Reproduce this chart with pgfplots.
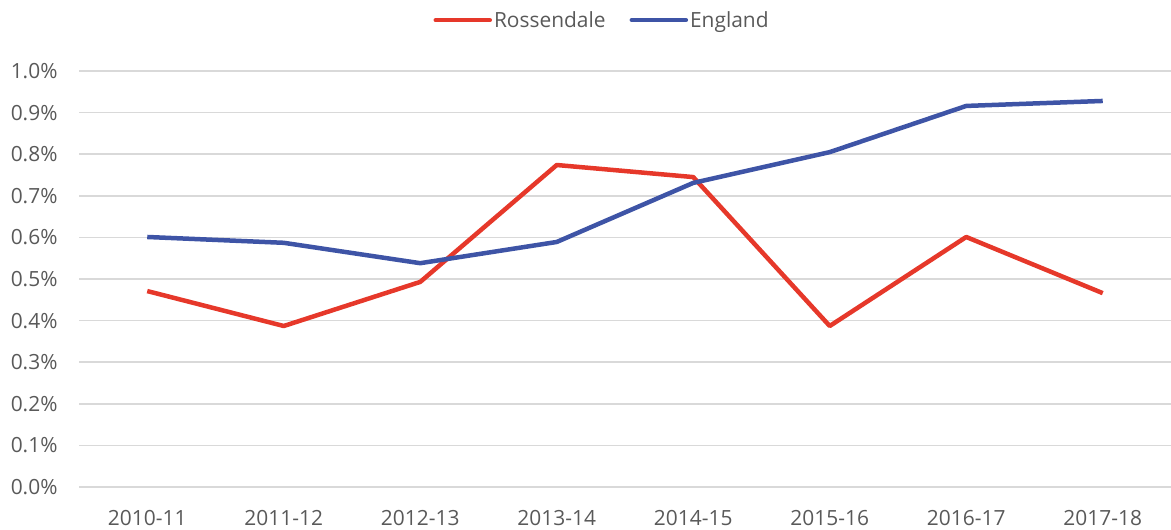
\documentclass[border=0pt]{standalone}
\usepackage{pgfplots}
\pgfplotsset{compat=1.18}
\usepackage{fontspec}
\setmainfont{Open Sans}
\definecolor{rred}{RGB}{230,56,42}
\definecolor{eblue}{RGB}{62,84,166}
\definecolor{txt}{RGB}{89,89,89}
\definecolor{gridc}{RGB}{217,217,217}
\begin{document}
\begin{tikzpicture}
\useasboundingbox (0,0) rectangle (1171bp,530bp);
\begin{axis}[
  at={(79bp,43bp)}, anchor=south west,
  scale only axis, width=1092bp, height=416bp,
  xmin=-0.5, xmax=7.5, ymin=0, ymax=1.0,
  xtick={0,...,7},
  xticklabels={2010-11,2011-12,2012-13,2013-14,2014-15,2015-16,2016-17,2017-18},
  ytick={0,0.1,...,1.0},
  yticklabel={\pgfmathprintnumber[fixed,fixed zerofill,precision=1]{\tick}\%},
  /pgf/number format/assume math mode=true,
  font=\fontsize{21}{25}\selectfont,
  tick label style={text=txt},
  yticklabel style={xshift=-18bp},
  xticklabel style={yshift=-20bp},
  major tick length=0pt,
  axis line style={draw=none},
  xmajorgrids=false, ymajorgrids=true,
  y grid style={gridc, line width=1.5bp},
  legend style={at={(0.479,1.0)}, anchor=south, yshift=38bp, draw=none, fill=none,
    legend columns=2, font=\fontsize{21}{25}\selectfont, text=txt,
    /tikz/every even column/.append style={column sep=22bp}},
  legend image code/.code={\draw[#1, line cap=round] (0bp,0bp) -- (54bp,0bp);},
]
\addplot[rred, line width=4.5bp, line join=round] coordinates {
(0,0.471) (1,0.387) (2,0.493) (3,0.774) (4,0.745) (5,0.387) (6,0.601) (7,0.466)};
\addlegendentry{Rossendale}
\addplot[eblue, line width=4.5bp, line join=round] coordinates {
(0,0.601) (1,0.587) (2,0.538) (3,0.589) (4,0.731) (5,0.805) (6,0.916) (7,0.928)};
\addlegendentry{England}
\end{axis}
\end{tikzpicture}
\end{document}
